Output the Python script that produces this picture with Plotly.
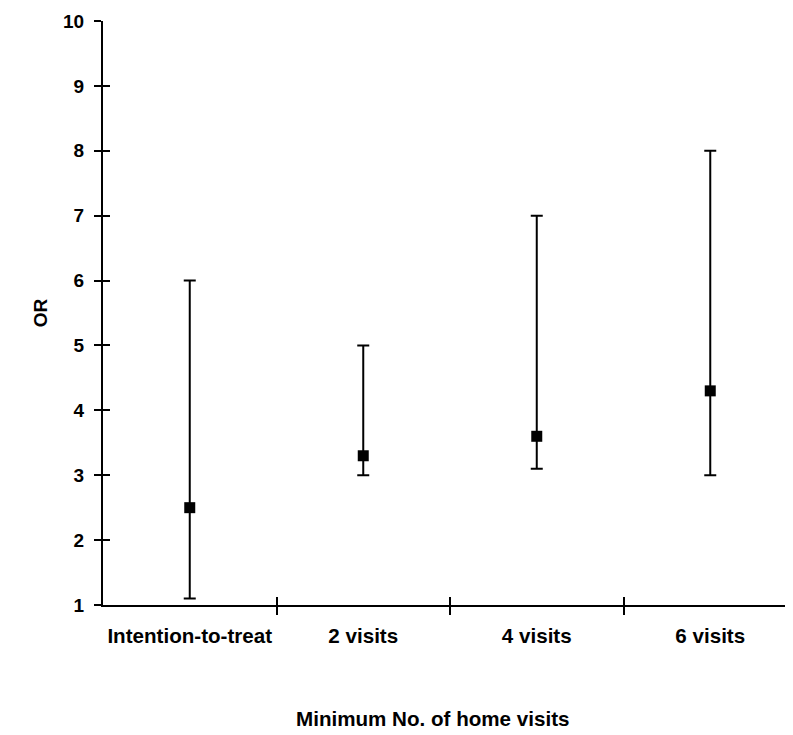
import plotly.graph_objects as go

categories = ["Intention-to-treat", "2 visits", "4 visits", "6 visits"]
or_vals = [2.5, 3.3, 3.6, 4.3]
ci_low = [1.1, 3.0, 3.1, 3.0]
ci_high = [6.0, 5.0, 7.0, 8.0]
y_ticks = [1, 2, 3, 4, 5, 6, 7, 8, 9, 10]

x_pos = list(range(len(categories)))
dividers = [i + 0.5 for i in x_pos[:-1]]
err_plus = [h - v for h, v in zip(ci_high, or_vals)]
err_minus = [v - l for v, l in zip(or_vals, ci_low)]

FONT = "Liberation Sans, Arial, Helvetica, sans-serif"
XR = [-0.5, 3.523]
YR = [1, 10]

fig = go.Figure()
fig.add_trace(go.Scatter(
    x=x_pos, y=or_vals, mode="markers",
    marker=dict(symbol="square", size=11, color="black"),
    error_y=dict(type="data", symmetric=False, array=err_plus, arrayminus=err_minus,
                 color="black", thickness=2, width=6),
    showlegend=False, hoverinfo="skip",
))
# invisible trace to activate overlay axes (for ticks crossing the axis lines)
fig.add_trace(go.Scatter(
    x=x_pos, y=or_vals, xaxis="x2", yaxis="y2", mode="markers",
    marker=dict(opacity=0, size=1), showlegend=False, hoverinfo="skip",
))

fig.update_layout(
    width=793, height=727,
    margin=dict(l=95, r=0, t=13, b=130, autoexpand=False),
    paper_bgcolor="white", plot_bgcolor="white",
    font=dict(family=FONT, color="black"),
    xaxis=dict(
        range=XR, showgrid=False, zeroline=False, automargin=False,
        showline=True, linecolor="black", linewidth=2,
        tickmode="array", tickvals=x_pos, ticktext=categories,
        ticks="", tickfont=dict(size=20.6, weight="bold"),
        ticklabelstandoff=11,
        minor=dict(tickmode="array", tickvals=dividers, ticks="outside",
                   ticklen=8, tickwidth=2, tickcolor="black", showgrid=False),
    ),
    xaxis2=dict(
        range=XR, overlaying="x", side="bottom", showgrid=False, zeroline=False,
        automargin=False,
        showline=False, tickmode="array", tickvals=dividers, ticks="inside",
        ticklen=8, tickwidth=2, tickcolor="black", showticklabels=False,
    ),
    yaxis=dict(
        range=YR, showgrid=False, zeroline=False, automargin=False,
        showline=True, linecolor="black", linewidth=2,
        tickmode="array", tickvals=y_ticks, ticks="outside",
        ticklen=7, tickwidth=2, tickcolor="black",
        tickfont=dict(size=19, weight="bold"), ticklabelstandoff=6,
        title=dict(text="OR", font=dict(size=19, weight="bold"), standoff=10),
    ),
    yaxis2=dict(
        range=YR, overlaying="y", side="left", showgrid=False, zeroline=False,
        automargin=False,
        showline=False, tickmode="array", tickvals=y_ticks, ticks="inside",
        ticklen=7, tickwidth=2, tickcolor="black", showticklabels=False,
    ),
    annotations=[dict(
        text="Minimum No. of home visits", xref="paper", yref="paper",
        x=(432 - 103) / 698, y=-(718 - 605) / 584, xanchor="center", yanchor="middle",
        showarrow=False, font=dict(size=20.6, weight="bold"),
    )],
)

fig.write_html("out.html")
